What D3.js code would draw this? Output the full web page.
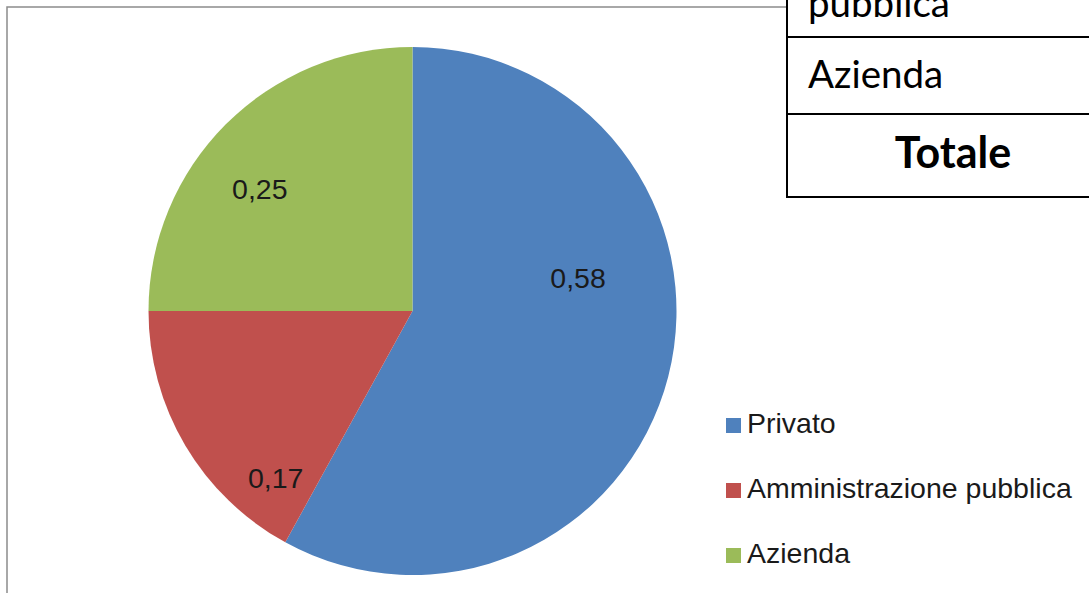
<!DOCTYPE html>
<html>
<head>
<meta charset="utf-8">
<script src="https://cdn.jsdelivr.net/npm/d3@7"></script>
<style>
  html, body { margin: 0; padding: 0; background: #fff; overflow: hidden; }
  #chart { width: 1089px; height: 593px; }
</style>
</head>
<body>
<div id="chart"></div>
<script>
// Pie chart data
const categories = ['Privato', 'Amministrazione pubblica', 'Azienda'];
const values = [0.58, 0.17, 0.25];
const colors = ['#4F81BD', '#C0504D', '#9BBB59'];
const valueLabels = ['0,58', '0,17', '0,25'];

// Table rows partly covering the chart (top right)
const tableRows = ['pubblica', 'Azienda', 'Totale'];

const width = 1089;
const height = 593;

const svg = d3.select('#chart')
    .append('svg')
    .attr('width', width)
    .attr('height', height);

// Chart frame
svg.append('rect')
    .attr('x', 7)
    .attr('y', 7)
    .attr('width', 1200)
    .attr('height', 700)
    .attr('fill', '#fff')
    .attr('stroke', '#8c8c8c')
    .attr('stroke-width', 1.5);

const cx = 412.5, cy = 311, radius = 264;

const pie = d3.pie()
    .sort(null)
    .value(d => d.value);

const data = categories.map((c, i) => ({ name: c, value: values[i], color: colors[i], label: valueLabels[i] }));
const arcs = pie(data);

const arc = d3.arc().innerRadius(0).outerRadius(radius);
const labelArc = d3.arc().innerRadius(radius * 0.62).outerRadius(radius * 0.62);

const g = svg.append('g').attr('transform', `translate(${cx},${cy})`);

g.selectAll('path')
    .data(arcs)
    .enter().append('path')
    .attr('d', arc)
    .attr('fill', d => d.data.color);

// Excel-style "best fit" placement, nudged from the centroid
const nudge = { 'Privato': [7, -74], 'Amministrazione pubblica': [4, 83], 'Azienda': [-37, -7] };

g.selectAll('text.val')
    .data(arcs)
    .enter().append('text')
    .attr('class', 'val')
    .attr('transform', d => {
        const [x, y] = labelArc.centroid(d);
        const [nx, ny] = nudge[d.data.name];
        return `translate(${x + nx},${y + ny})`;
    })
    .attr('text-anchor', 'middle')
    .attr('dy', '0.36em')
    .attr('font-family', '"Liberation Sans", Arial, sans-serif')
    .attr('font-size', '28.5px')
    .attr('fill', '#1a1a1a')
    .text(d => d.data.label);

// Legend
const legend = svg.append('g').attr('transform', 'translate(726,433)');
const item = legend.selectAll('g')
    .data(data)
    .enter().append('g')
    .attr('transform', (d, i) => `translate(0,${i * 65})`);

item.append('rect')
    .attr('x', 0)
    .attr('y', -15)
    .attr('width', 15)
    .attr('height', 15)
    .attr('fill', d => d.color);

item.append('text')
    .attr('x', 21)
    .attr('y', 0)
    .attr('font-family', '"Liberation Sans", Arial, sans-serif')
    .attr('font-size', '28.5px')
    .attr('fill', '#1a1a1a')
    .text(d => d.name);

// Overlapping table
const table = svg.append('g').attr('transform', 'translate(787,0)');
const rowTops = [-60, 37, 114];
const rowBottoms = [37, 114, 197];

table.selectAll('rect')
    .data(tableRows)
    .enter().append('rect')
    .attr('x', 0)
    .attr('y', (d, i) => rowTops[i])
    .attr('width', 400)
    .attr('height', (d, i) => rowBottoms[i] - rowTops[i])
    .attr('fill', '#fff')
    .attr('stroke', '#000')
    .attr('stroke-width', 2);

table.selectAll('text')
    .data(tableRows)
    .enter().append('text')
    .attr('x', (d, i) => i === 2 ? 166 : 21)
    .attr('y', (d, i) => [17, 88, 168][i])
    .attr('text-anchor', (d, i) => i === 2 ? 'middle' : 'start')
    .attr('font-family', 'Lato, "Open Sans", sans-serif')
    .attr('font-weight', (d, i) => i === 2 ? 'bold' : 'normal')
    .attr('font-size', (d, i) => i === 2 ? '43px' : '38.5px')
    .attr('fill', '#000')
    .text(d => d);
</script>
</body>
</html>
